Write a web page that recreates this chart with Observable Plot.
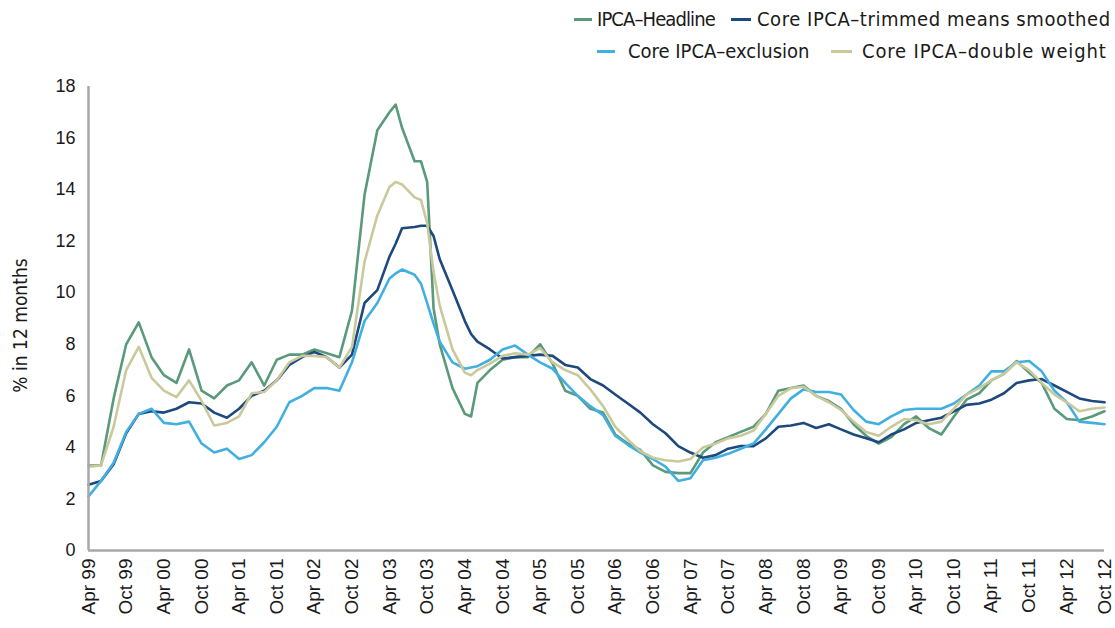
<!DOCTYPE html>
<html><head><meta charset="utf-8">
<script src="https://cdn.jsdelivr.net/npm/d3@7"></script>
<script src="https://cdn.jsdelivr.net/npm/@observablehq/plot@0.6"></script>
<style>
body{margin:0;background:#fff;}
#wrap{position:relative;width:1115px;height:628px;overflow:hidden;}
.item{position:absolute;font-family:"Liberation Sans Narrow","DejaVu Sans Condensed",sans-serif;font-size:20px;color:#1a1a1a;white-space:nowrap;line-height:24px;}
.sw{position:absolute;height:3px;}
#chart{position:absolute;top:70px;left:0;}
</style></head><body>
<div id="wrap">
<div id="legend"></div>
<div id="chart"></div>
</div>
<script>
const months = [
"1999-04","1999-06","1999-08","1999-10","1999-12",
"2000-02","2000-04","2000-06","2000-08","2000-10","2000-12",
"2001-02","2001-04","2001-06","2001-08","2001-10","2001-12",
"2002-02","2002-04","2002-06","2002-08","2002-10","2002-12",
"2003-02","2003-04","2003-05","2003-06","2003-08","2003-09","2003-10","2003-11","2003-12",
"2004-02","2004-04","2004-05","2004-06","2004-08","2004-10","2004-12",
"2005-02","2005-04","2005-06","2005-08","2005-10","2005-12",
"2006-02","2006-04","2006-06","2006-08","2006-10","2006-12",
"2007-02","2007-04","2007-06","2007-08","2007-10","2007-12",
"2008-02","2008-04","2008-06","2008-08","2008-10","2008-12",
"2009-02","2009-04","2009-06","2009-08","2009-10","2009-12",
"2010-02","2010-04","2010-06","2010-08","2010-10","2010-12",
"2011-02","2011-04","2011-06","2011-08","2011-10","2011-12",
"2012-02","2012-04","2012-06","2012-08","2012-10"];

const headline = [
3.3,3.3,5.9,8.0,8.85,
7.5,6.8,6.5,7.8,6.2,5.9,
6.4,6.6,7.3,6.4,7.4,7.6,
7.6,7.8,7.65,7.5,9.3,13.8,
16.3,17.0,17.3,16.4,15.1,15.1,14.3,9.4,8.0,
6.3,5.3,5.2,6.5,7.0,7.4,7.5,
7.5,8.0,7.25,6.2,6.0,5.5,
5.35,4.5,4.15,3.9,3.3,3.05,
3.0,3.0,3.8,4.2,4.4,4.6,
4.8,5.3,6.2,6.3,6.4,6.0,
5.8,5.5,4.9,4.45,4.15,4.4,
4.9,5.2,4.75,4.5,5.2,5.85,
6.1,6.6,6.85,7.35,6.9,6.5,
5.5,5.1,5.05,5.2,5.4];

const trimmed = [
2.55,2.7,3.35,4.55,5.3,
5.4,5.35,5.5,5.75,5.7,5.35,
5.15,5.5,6.0,6.2,6.6,7.2,
7.5,7.7,7.5,7.1,7.6,9.6,
10.1,11.4,11.9,12.5,12.55,12.6,12.6,12.2,11.3,
10.1,8.9,8.4,8.1,7.8,7.45,7.5,
7.55,7.6,7.55,7.2,7.1,6.65,
6.4,6.05,5.7,5.35,4.9,4.55,
4.05,3.8,3.6,3.7,3.95,4.05,
4.05,4.35,4.8,4.85,4.95,4.75,
4.9,4.7,4.5,4.35,4.2,4.5,
4.7,4.95,5.05,5.15,5.4,5.65,
5.7,5.85,6.1,6.5,6.6,6.65,
6.4,6.15,5.9,5.8,5.75];

const exclusion = [
2.1,2.7,3.4,4.6,5.3,
5.5,4.95,4.9,5.0,4.15,3.8,
3.95,3.55,3.7,4.2,4.8,5.75,
6.0,6.3,6.3,6.2,7.3,8.9,
9.6,10.55,10.75,10.9,10.7,10.35,9.6,8.8,8.1,
7.3,7.05,7.1,7.15,7.4,7.8,7.95,
7.6,7.3,7.05,6.5,6.0,5.6,
5.25,4.45,4.1,3.8,3.55,3.25,
2.7,2.8,3.5,3.6,3.75,3.95,
4.15,4.7,5.3,5.9,6.25,6.15,
6.15,6.05,5.45,5.0,4.9,5.2,
5.45,5.5,5.5,5.5,5.7,6.05,
6.4,6.95,6.95,7.3,7.35,6.95,
6.2,5.75,5.0,4.95,4.9];

const doubleWeight = [
3.25,3.3,4.8,7.0,7.9,
6.7,6.2,5.95,6.6,5.8,4.85,
4.95,5.2,6.1,6.15,6.6,7.3,
7.55,7.55,7.5,7.1,7.9,11.2,
13.0,14.1,14.3,14.2,13.7,13.6,12.7,10.8,9.5,
7.8,6.9,6.8,7.0,7.25,7.55,7.65,
7.6,7.85,7.3,7.0,6.8,6.25,
5.6,4.8,4.3,3.85,3.6,3.5,
3.45,3.55,4.0,4.15,4.35,4.45,
4.65,5.3,6.0,6.3,6.35,6.0,
5.75,5.45,5.0,4.6,4.45,4.8,
5.1,5.05,4.9,5.0,5.5,6.05,
6.3,6.6,6.85,7.3,7.0,6.5,
6.05,5.75,5.4,5.5,5.55];

const seriesNames = ["IPCA–Headline","Core IPCA–trimmed means smoothed","Core IPCA–exclusion","Core IPCA–double weight"];
const seriesColors = ["#5a9a7b","#1d497c","#41afe0","#c9c99c"];
const seriesValues = [headline, trimmed, exclusion, doubleWeight];

const xTickLabels = ["Apr 99","Oct 99","Apr 00","Oct 00","Apr 01","Oct 01","Apr 02","Oct 02","Apr 03","Oct 03","Apr 04","Oct 04","Apr 05","Oct 05","Apr 06","Oct 06","Apr 07","Oct 07","Apr 08","Oct 08","Apr 09","Oct 09","Apr 10","Oct 10","Apr 11","Oct 11","Apr 12","Oct 12"];
const yTicks = [0,2,4,6,8,10,12,14,16,18];
const yLabel = "% in 12 months";

const parseMonth = d3.utcParse("%Y-%m");
const parseTick = d3.utcParse("%b %y");
const fmtTick = d3.utcFormat("%b %y");
const dates = months.map(parseMonth);
const xTicks = xTickLabels.map(parseTick);

const tables = seriesValues.map(vals => dates.map((d, i) => ({date: d, value: vals[i]})));

const axisGray = "#a8a8a8";
const tickFont = "'Liberation Sans', Arial, sans-serif";

const chart = Plot.plot({
  width: 1115,
  height: 558,
  marginLeft: 88,
  marginRight: 11,
  marginTop: 16,
  marginBottom: 78,
  style: {fontFamily: tickFont, background: "white", color: "#1a1a1a", overflow: "visible"},
  x: {type: "utc", domain: [xTicks[0], xTicks[xTicks.length - 1]]},
  y: {domain: [0, 18]},
  marks: [
    Plot.axisY(yTicks, {tickSize: 0, tickPadding: 13, fontSize: 18, label: null}),
    Plot.axisX(xTicks, {tickSize: 0, tickPadding: 8, tickRotate: -90, fontSize: 19, tickFormat: fmtTick, label: null}),
    Plot.text([yLabel], {frameAnchor: "left", textAnchor: "middle", dx: -68, dy: 7, rotate: -90, fontSize: 19, fontFamily: "'Liberation Sans Narrow','DejaVu Sans Condensed', sans-serif", fill: "#1a1a1a"}),
    ...tables.map((t, i) => Plot.line(t, {x: "date", y: "value", stroke: seriesColors[i], strokeWidth: 2.6, strokeLinejoin: "round"})),
    Plot.ruleX([xTicks[0]], {stroke: axisGray, strokeWidth: 2.5}),
    Plot.ruleY([0], {stroke: axisGray, strokeWidth: 2.5})
  ]
});
document.getElementById("chart").appendChild(chart);

// legend layout: [swatch left, swatch width, text left, top, letter spacing]
const legendPos = [[574, 18, 597, 7, -0.9], [731, 20, 757, 7, 0.55], [597, 18, 628, 39, 0], [831, 21, 862, 39, 0.85]];
const legend = document.getElementById("legend");
legendPos.forEach(([sx, sw, tx, top, ls], i) => {
  const s = document.createElement("div");
  s.className = "sw";
  s.style.left = sx + "px"; s.style.width = sw + "px"; s.style.top = (top + 11) + "px";
  s.style.background = seriesColors[i];
  const t = document.createElement("div");
  t.className = "item";
  t.style.left = tx + "px"; t.style.top = top + "px";
  t.style.letterSpacing = ls + "px";
  t.textContent = seriesNames[i];
  legend.appendChild(s); legend.appendChild(t);
});
</script>
</body></html>
